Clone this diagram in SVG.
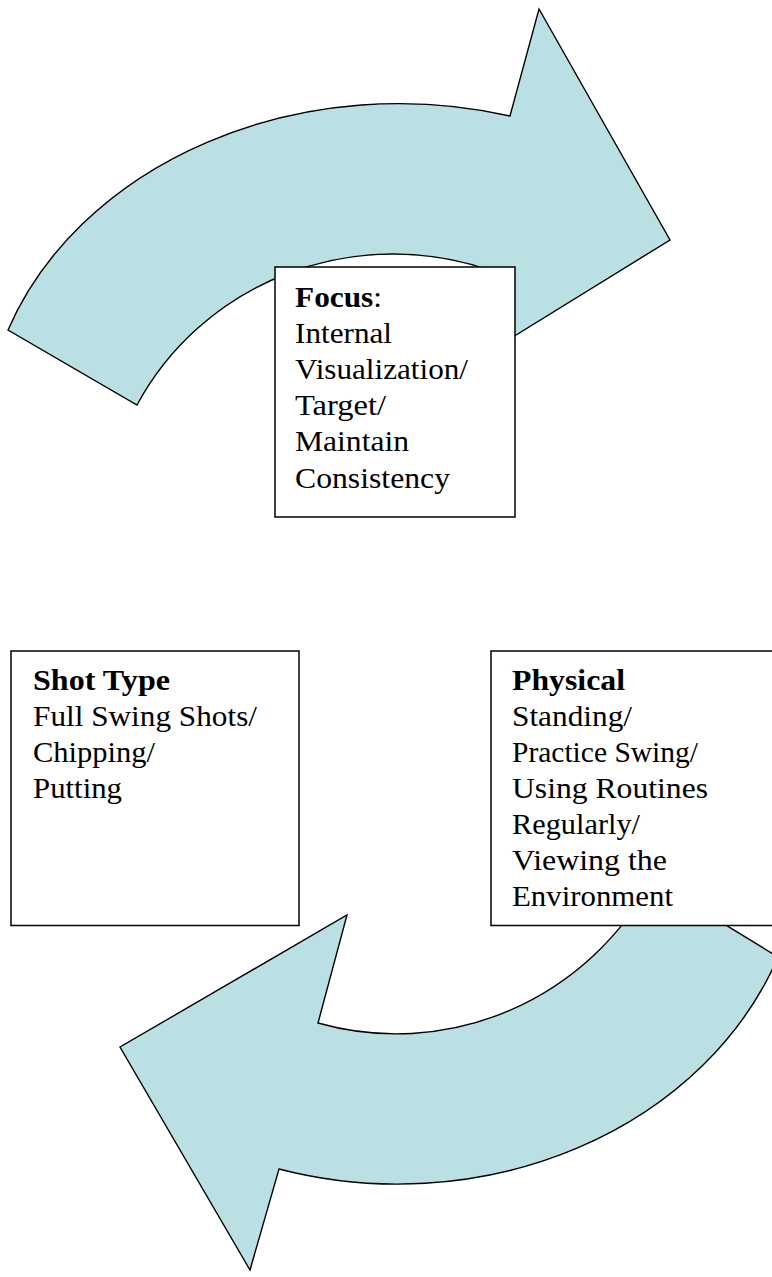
<svg xmlns="http://www.w3.org/2000/svg" width="772" height="1277" viewBox="0 0 772 1277">
<style>
.arrow{fill:#BAE0E3;stroke:#000;stroke-width:1.4;stroke-linejoin:miter}
.box{fill:#fff;stroke:#000;stroke-width:1.5}
.t{font-family:"Liberation Serif","Times New Roman",serif;font-size:29px;fill:#000}
.b{font-weight:bold}
</style>
<rect width="772" height="1277" fill="#fff"/>
<g id="connectors">
<path id="arrow-top" class="arrow" d="M 8,330 A 415 340 0 0 1 510,116 L 539,9 L 670,240 L 495,348 L 490,270.3 A 289 281 0 0 0 137,405 Z"/>
<path id="arrow-bottom" class="arrow" d="M 652,880 L 778,957 A 406 348 0 0 1 279,1169 L 250,1270 L 120,1047 L 347,915 L 318,1023 A 293 300 0 0 0 652,880 Z"/>
</g>
<g id="focus">
<rect class="box" x="275" y="267" width="240" height="250"/>
<text class="t" x="295" y="306.5" textLength="87" lengthAdjust="spacingAndGlyphs"><tspan class="b">Focus</tspan>:</text>
<text class="t" x="295" y="342.7" textLength="97" lengthAdjust="spacingAndGlyphs">Internal</text>
<text class="t" x="295" y="378.9" textLength="173" lengthAdjust="spacingAndGlyphs">Visualization/</text>
<text class="t" x="295" y="415.1" textLength="91" lengthAdjust="spacingAndGlyphs">Target/</text>
<text class="t" x="295" y="451.3" textLength="114" lengthAdjust="spacingAndGlyphs">Maintain</text>
<text class="t" x="295" y="487.5" textLength="155" lengthAdjust="spacingAndGlyphs">Consistency</text>
</g>
<g id="shot-type">
<rect class="box" x="11" y="651" width="288" height="274.5"/>
<text class="t b" x="33" y="690" textLength="137" lengthAdjust="spacingAndGlyphs">Shot Type</text>
<text class="t" x="33" y="726.3" textLength="224" lengthAdjust="spacingAndGlyphs">Full Swing Shots/</text>
<text class="t" x="33" y="762.2" textLength="122" lengthAdjust="spacingAndGlyphs">Chipping/</text>
<text class="t" x="33" y="798" textLength="89" lengthAdjust="spacingAndGlyphs">Putting</text>
</g>
<g id="physical">
<rect class="box" x="491" y="651" width="300" height="274.5"/>
<text class="t b" x="512" y="690" textLength="113" lengthAdjust="spacingAndGlyphs">Physical</text>
<text class="t" x="512" y="726" textLength="120" lengthAdjust="spacingAndGlyphs">Standing/</text>
<text class="t" x="512" y="762" textLength="186" lengthAdjust="spacingAndGlyphs">Practice Swing/</text>
<text class="t" x="512" y="798" textLength="196" lengthAdjust="spacingAndGlyphs">Using Routines</text>
<text class="t" x="512" y="834" textLength="128" lengthAdjust="spacingAndGlyphs">Regularly/</text>
<text class="t" x="512" y="870" textLength="155" lengthAdjust="spacingAndGlyphs">Viewing the</text>
<text class="t" x="512" y="906" textLength="161" lengthAdjust="spacingAndGlyphs">Environment</text>
</g>
</svg>
